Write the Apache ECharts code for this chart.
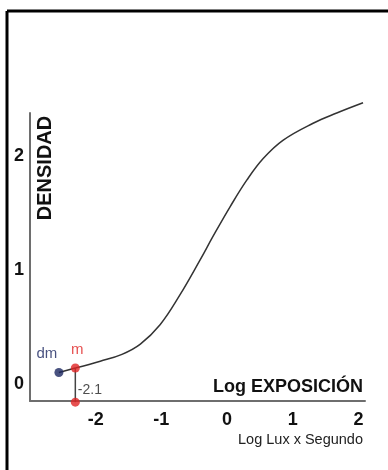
<!DOCTYPE html>
<html><head><meta charset="utf-8">
<script src="https://cdn.jsdelivr.net/npm/echarts@6/dist/echarts.min.js"></script>
<style>html,body{margin:0;padding:0;background:#fff}#c{width:388px;height:470px}</style>
</head><body><div id="c"></div>
<script>
const xTicks = [-2, -1, 0, 1, 2];
const yTicks = [0, 1, 2];
const curveX = [-2.31, -1.93, -1.60, -1.32, -1.02, -0.72, -0.41, -0.21, 0.05, 0.30, 0.55, 0.85, 1.31, 1.67, 2.07];
const curveY = [0.14, 0.20, 0.26, 0.35, 0.52, 0.78, 1.09, 1.30, 1.56, 1.79, 1.98, 2.14, 2.29, 2.38, 2.47];
const dmPoint = [-2.56, 0.10];
const mPoint = [-2.31, 0.14];
const mLabel = '-2.1';
const xName = 'Log EXPOSICIÓN';
const yName = 'DENSIDAD';
const unitName = 'Log Lux x Segundo';

const font = 'Liberation Sans, Arial, sans-serif';
const chart = echarts.init(document.getElementById('c'), null, {renderer: 'canvas'});
const yBottom = -0.16;
chart.setOption({
  animation: false,
  backgroundColor: '#fff',
  grid: {left: 30, right: 23, top: 113, bottom: 69},
  xAxis: {
    type: 'value', min: -3, max: 2.1,
    axisLine: {show: true, onZero: false, lineStyle: {color: '#6e6e6e', width: 2}},
    axisTick: {show: false}, splitLine: {show: false},
    axisLabel: {customValues: xTicks, margin: 10, color: '#111', fontSize: 18, fontWeight: 'bold', fontFamily: font},
    name: xName, nameLocation: 'end', nameGap: -2,
    nameTextStyle: {align: 'right', verticalAlign: 'bottom', padding: [0, 0, 5, 0], color: '#111', fontSize: 18, fontWeight: 'bold', fontFamily: font}
  },
  yAxis: {
    type: 'value', min: -0.15, max: 2.38,
    axisLine: {show: true, onZero: false, lineStyle: {color: '#6e6e6e', width: 2}},
    axisTick: {show: false}, splitLine: {show: false},
    axisLabel: {customValues: yTicks, margin: 6, color: '#111', fontSize: 18, fontWeight: 'bold', fontFamily: font}
  },
  graphic: [
    {type: 'line', shape: {x1: 7, y1: 11, x2: 388, y2: 11}, style: {stroke: '#000', lineWidth: 3}},
    {type: 'line', shape: {x1: 7, y1: 11, x2: 7, y2: 470}, style: {stroke: '#000', lineWidth: 3}},
    {type: 'text', x: 45, y: 168, rotation: Math.PI / 2,
     style: {text: yName, fill: '#111', font: 'bold 20px ' + font, textAlign: 'center', textVerticalAlign: 'middle'}},
    {type: 'text', x: 363, y: 440,
     style: {text: unitName, fill: '#222', font: '14.5px ' + font, textAlign: 'right', textVerticalAlign: 'middle'}}
  ],
  series: [
    {type: 'line', data: [mPoint, [mPoint[0], yBottom]], symbol: 'none', clip: false,
     lineStyle: {color: '#444', width: 1.5}, z: 2},
    {type: 'line', data: [dmPoint, mPoint], symbol: 'none', clip: false,
     lineStyle: {color: '#333', width: 1.5}, z: 2},
    {type: 'line', data: curveX.map((x, i) => [x, curveY[i]]), symbol: 'none', smooth: 0.4, clip: false,
     lineStyle: {color: '#333', width: 1.5}, z: 2},
    {type: 'scatter', data: [dmPoint], symbolSize: 9, clip: false, z: 3,
     itemStyle: {color: '#1b2760'},
     label: {show: true, formatter: 'dm', position: 'top', offset: [-12, -2], color: '#1b2760', fontSize: 15, fontFamily: font}},
    {type: 'scatter', data: [mPoint], symbolSize: 9, clip: false, z: 3,
     itemStyle: {color: '#e02424'},
     label: {show: true, formatter: 'm', position: 'top', offset: [2, -1], color: '#e02424', fontSize: 15, fontFamily: font}},
    {type: 'scatter', data: [[mPoint[0], yBottom]], symbolSize: 9, clip: false, z: 3,
     itemStyle: {color: '#e02424'},
     label: {show: true, formatter: mLabel, position: 'right', distance: 0, offset: [-2, -12], color: '#222', fontSize: 14, fontFamily: font}}
  ]
});
</script></body></html>
